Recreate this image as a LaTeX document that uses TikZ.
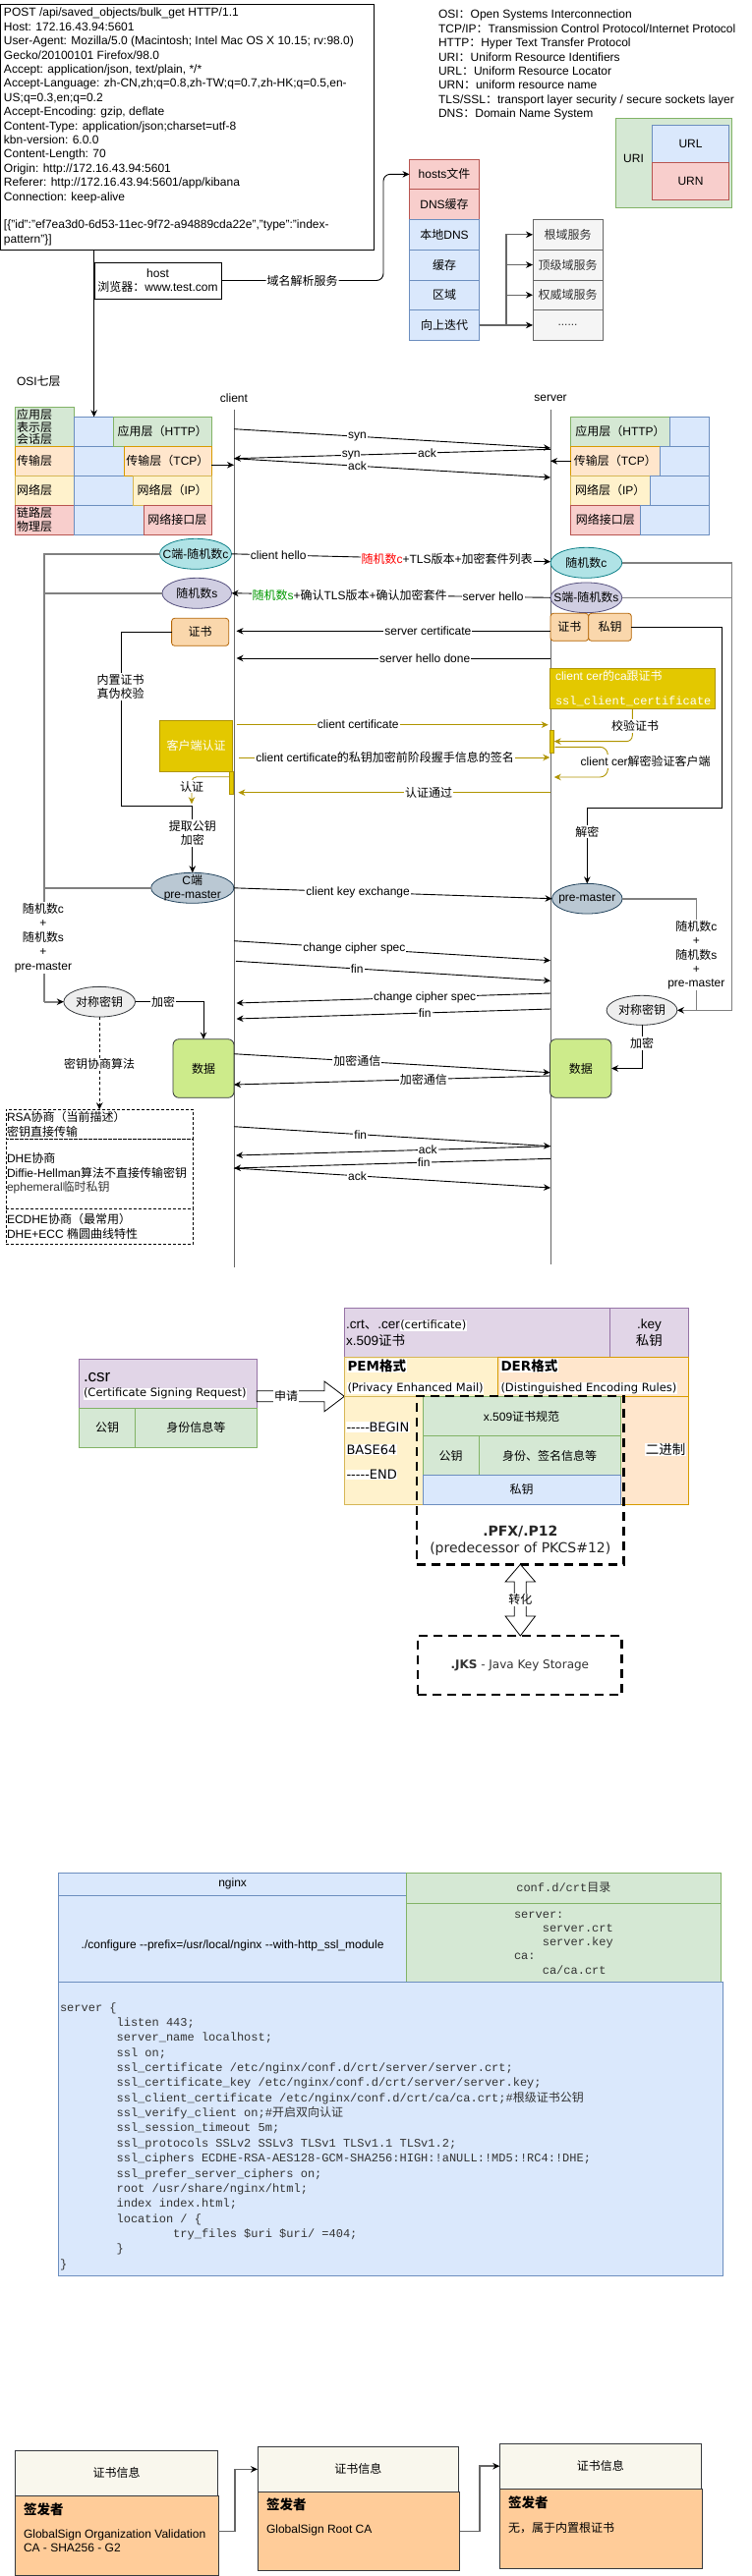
\documentclass[tikz,border=0pt]{standalone}
\usepackage{fontspec}
\setmainfont{Liberation Sans}
\setmonofont{Liberation Mono}
\newfontfamily\cjkfont{Noto Sans CJK SC}
\newfontfamily\dvfont{DejaVu Sans}
\usetikzlibrary{arrows.meta,shapes.geometric}
\XeTeXinterchartokenstate=1
\newXeTeXintercharclass\CJKcls
\newcount\cjkcnt
\newcommand\cjkrange[2]{\cjkcnt=#1\relax
  \loop\XeTeXcharclass\cjkcnt=\CJKcls\relax
  \ifnum\cjkcnt<#2\relax\advance\cjkcnt by 1\relax\repeat}
\cjkrange{"3000}{"303F}
\cjkrange{"4E00}{"9FFF}
\cjkrange{"FF00}{"FFEF}
\newcommand\mylatinfam{\rmdefault}
\newcommand\cjkon{\cjkfont}
\newcommand\cjkoff{\fontfamily{\mylatinfam}\selectfont}
\XeTeXinterchartoks 0 \CJKcls = {\cjkon}
\XeTeXinterchartoks 4095 \CJKcls = {\cjkon}
\XeTeXinterchartoks \CJKcls 0 = {\cjkoff}
\XeTeXinterchartoks \CJKcls 4095 = {\cjkoff}
\newcommand\fs[2]{\fontsize{#1}{#2}\selectfont}
\newcommand\bx[7]{\node[#6, minimum width={(#4)-(#2)}, minimum height={(#5)-(#3)}] (#1) at ({((#2)+(#4))/2},{((#3)+(#5))/2}) {#7};}
\newcommand\el[7]{\node[ell,#6,minimum width=#4,minimum height=#5] (#1) at (#2,#3) {};\node[align=center] (#1t) at (#2,#3) {#7};}
\definecolor{GF}{HTML}{D5E8D4}\definecolor{GD}{HTML}{82B366}
\definecolor{BF}{HTML}{DAE8FC}\definecolor{BD}{HTML}{6C8EBF}
\definecolor{RF}{HTML}{F8CECC}\definecolor{RD}{HTML}{B85450}
\definecolor{OF}{HTML}{FFE6CC}\definecolor{OD}{HTML}{D79B00}
\definecolor{YF}{HTML}{FFF2CC}\definecolor{YD}{HTML}{D6B656}
\definecolor{PF}{HTML}{E1D5E7}\definecolor{PD}{HTML}{9673A6}
\definecolor{GrF}{HTML}{F5F5F5}\definecolor{GrD}{HTML}{666666}\definecolor{GrT}{HTML}{333333}
\definecolor{TF}{HTML}{B0E3E6}\definecolor{TD}{HTML}{0E8088}
\definecolor{LF}{HTML}{D0CEE2}\definecolor{LD}{HTML}{56517E}
\definecolor{SF}{HTML}{BAC8D3}\definecolor{SD}{HTML}{23445D}
\definecolor{CF}{HTML}{FAD7AC}\definecolor{CD}{HTML}{B46504}
\definecolor{DYF}{HTML}{E3C800}\definecolor{YE}{HTML}{B09500}
\definecolor{EF}{HTML}{EEEEEE}\definecolor{ED}{HTML}{36393D}
\definecolor{DF}{HTML}{CDEB8B}
\definecolor{HF}{HTML}{F9F7ED}\definecolor{BoF}{HTML}{FFCC99}
\definecolor{GL}{HTML}{808080}\definecolor{GRL}{HTML}{666666}
\definecolor{SG}{HTML}{009900}\definecolor{CT}{HTML}{333333}
\begin{document}
\begin{tikzpicture}[x=1pt,y=-1pt,
  every node/.style={font={\fs{12}{14.4}}, inner sep=0pt, outer sep=0pt},
  bxs/.style={draw, rectangle, line width=0.8pt, align=center},
  gbox/.style={bxs, fill=GF, draw=GD},
  bbox/.style={bxs, fill=BF, draw=BD},
  rbox/.style={bxs, fill=RF, draw=RD},
  obox/.style={bxs, fill=OF, draw=OD},
  ybox/.style={bxs, fill=YF, draw=YD},
  pbox/.style={bxs, fill=PF, draw=PD},
  grbox/.style={bxs, fill=GrF, draw=GrD, text=GrT},
  cert/.style={bxs, rounded corners=3pt, fill=CF, draw=CD},
  dybox/.style={bxs, fill=DYF, draw=YE, text=white},
  dbox/.style={bxs, rounded corners=6pt, fill=DF, draw=ED},
  hbox/.style={bxs, fill=HF, draw=ED},
  obody/.style={bxs, fill=BoF, draw=ED},
  ell/.style={ellipse, draw, line width=0.8pt},
  arr/.style={line width=0.9pt, -{Stealth[length=7pt,width=6.5pt]}},
  yarr/.style={arr, draw=YE},
  gl/.style={draw=GL, line width=1.6pt},
  garr/.style={gl, -{Stealth[length=7pt,width=6.5pt,color=black]}},
  lbl/.style={fill=white, inner sep=1pt},
  life/.style={draw=black!60, line width=1pt},
  dbx/.style={draw, line width=0.8pt, dash pattern=on 3pt off 2pt},
  tdash/.style={draw, line width=2.8pt, dash pattern=on 9pt off 6pt},
]
\fill[white] (0,0) rectangle (764,2622);
\useasboundingbox (0,0) rectangle (764,2622);

% ---------- HTTP request ----------
\node[draw, line width=0.8pt, minimum width=379.5, minimum height=250, anchor=north west] (http) at (0.5,4) {};
\node[anchor=west, align=left] (httptxt) at (4,129) {POST /api/saved\_objects/bulk\_get HTTP/1.1\\
Host: 172.16.43.94:5601\\
User-Agent: Mozilla/5.0 (Macintosh; Intel Mac OS X 10.15; rv:98.0)\\
Gecko/20100101 Firefox/98.0\\
Accept: application/json, text/plain, */*\\
Accept-Language: zh-CN,zh;q=0.8,zh-TW;q=0.7,zh-HK;q=0.5,en-\\
US;q=0.3,en;q=0.2\\
Accept-Encoding: gzip, deflate\\
Content-Type: application/json;charset=utf-8\\
kbn-version: 6.0.0\\
Content-Length: 70\\
Origin: http://172.16.43.94:5601\\
Referer: http://172.16.43.94:5601/app/kibana\\
Connection: keep-alive\\[14.4pt]
[\{"id":"ef7ea3d0-6d53-11ec-9f72-a94889cda22e","type":"index-\\
pattern"\}]};
\bx{host}{96}{267}{225}{304}{bxs}{host\\浏览器：www.test.com}

% ---------- definitions ----------
\node[anchor=west, align=left] (defs) at (446,66.2) {OSI：Open Systems Interconnection\\
TCP/IP：Transmission Control Protocol/Internet Protocol\\
HTTP：Hyper Text Transfer Protocol\\
URI：Uniform Resource Identifiers\\
URL：Uniform Resource Locator\\
URN：uniform resource name\\
TLS/SSL：transport layer security / secure sockets layer\\
DNS：Domain Name System};
\bx{uri}{626.7}{120.3}{744.3}{211.3}{gbox}{}
\node (urit) at (644.5,161) {URI};
\bx{url}{663.3}{127.3}{741.7}{165.3}{bbox}{URL}
\bx{urn}{663.3}{165.3}{741.7}{203.3}{rbox}{URN}

% ---------- DNS ----------
\bx{hosts}{416.5}{162}{487.5}{192.7}{rbox}{hosts文件}
\bx{dnsc}{416.5}{192.7}{487.5}{223.4}{rbox}{DNS缓存}
\bx{ldns}{416.5}{223.4}{487.5}{254.2}{bbox}{本地DNS}
\bx{cache}{416.5}{254.2}{487.5}{284.9}{bbox}{缓存}
\bx{zone}{416.5}{284.9}{487.5}{315.6}{bbox}{区域}
\bx{iter}{416.5}{315.6}{487.5}{346.3}{bbox}{向上迭代}
\bx{g1}{542}{223.4}{613}{254.2}{grbox}{根域服务}
\bx{g2}{542}{254.2}{613}{284.9}{grbox}{顶级域服务}
\bx{g3}{542}{284.9}{613}{315.6}{grbox}{权威域服务}
\bx{g4}{542}{315.6}{613}{346.3}{grbox}{......}
\coordinate (jn) at (515,330.95);
\foreach \t in {g1,g2,g3,g4}{\draw[line width=1.3pt, draw=GRL, -{Stealth[length=7pt,width=6.5pt,color=black]}] (iter.east) -- (jn) |- (\t.west);}
\draw[arr, rounded corners=7pt] (host.east) -- node[lbl]{域名解析服务} (390,285.5) -- (390,177.3) -- (hosts.west);

% ---------- lifelines ----------
\node[anchor=west] (osi7) at (17,388) {OSI七层};
\node (client) at (238,405) {client};
\node (server) at (560,405) {server};
\coordinate (cT) at (238,416.7); \coordinate (cB) at (238,1290);
\coordinate (sT) at (560,416.7); \coordinate (sB) at (560,1287);
\draw[life] (cT) -- (cB);
\draw[life] (sT) -- (sB);

% ---------- OSI left ----------
\bx{L1}{15.6}{414}{75.6}{454.3}{gbox}{}
\bx{L2}{15.6}{454.3}{75.6}{484.3}{obox}{}
\bx{L3}{15.6}{484.3}{75.6}{514.3}{ybox}{}
\bx{L4}{15.6}{514.3}{75.6}{544.3}{rbox}{}
\node[anchor=west, align=left, font={\fs{12}{12.8}}] (L1t) at (17,434.5) {应用层\\表示层\\会话层};
\node[anchor=west] (L2t) at (17,469.3) {传输层};
\node[anchor=west] (L3t) at (17,499.3) {网络层};
\node[anchor=west, align=left, font={\fs{12}{14}}] (L4t) at (17,528.7) {链路层\\物理层};
\bx{oB1}{75.6}{424.3}{115.6}{454.3}{bbox}{}
\bx{oB2}{75.6}{454.3}{125.9}{484.3}{bbox}{}
\bx{oB3}{75.6}{484.3}{135.6}{514.3}{bbox}{}
\bx{oB4}{75.6}{514.3}{145.9}{544.3}{bbox}{}
\bx{oL1}{115.6}{424.3}{215}{454.3}{gbox}{应用层（HTTP）}
\bx{oL2}{125.9}{454.3}{215}{484.3}{obox}{传输层（TCP）}
\bx{oL3}{135.6}{484.3}{215}{514.3}{ybox}{网络层（IP）}
\bx{oL4}{145.9}{514.3}{215}{544.3}{rbox}{网络接口层}
\draw[arr] (http.south -| oB1.north) -- (oB1.north);
% ---------- OSI right ----------
\bx{oR1}{580.5}{424.3}{681.5}{454.3}{gbox}{应用层（HTTP）}
\bx{oRB1}{681.5}{424.3}{721}{454.3}{bbox}{}
\bx{oR2}{580.5}{454.3}{671}{484.3}{obox}{传输层（TCP）}
\bx{oRB2}{671}{454.3}{721}{484.3}{bbox}{}
\bx{oR3}{580.5}{484.3}{661}{514.3}{ybox}{网络层（IP）}
\bx{oRB3}{661}{484.3}{721}{514.3}{bbox}{}
\bx{oR4}{580.5}{514.3}{651}{544.3}{rbox}{网络接口层}
\bx{oRB4}{651}{514.3}{721}{544.3}{bbox}{}
\draw[arr] ([yshift=-4pt]oL2.east) -- (238,473.3);
\draw[arr] (oR2.west) -- (560,469.3);

% ---------- TCP handshake ----------
\draw[arr] (238,436.7) -- node[lbl,pos=0.39]{syn} (560,456);
\draw[arr] (560,457.3) -- node[lbl,pos=0.39]{ack} node[lbl,pos=0.63]{syn} (238,466.7);
\draw[arr] (238,466.7) -- node[lbl,pos=0.39]{ack} (560,486);

% ---------- TLS ----------
\el{cR}{199}{563.8}{73}{31}{fill=TF,draw=TD}{C端-随机数c}
\el{sL}{200.3}{603.8}{70.6}{31}{fill=LF,draw=LD}{随机数s}
\el{rc}{596.4}{572.8}{72.7}{31}{fill=TF,draw=TD}{随机数c}
\el{ss}{596.4}{608.3}{72.7}{30.7}{fill=LF,draw=LD}{S端-随机数s}
\el{pmC}{195.8}{903.8}{84.3}{31}{fill=SF,draw=SD}{C端\\pre-master}
\el{pmS}{597.3}{914.7}{71.5}{30.7}{fill=SF,draw=SD}{pre-master}
\el{dcL}{101.2}{1019.7}{72.7}{30.7}{fill=EF,draw=ED}{对称密钥}
\el{dcR}{653}{1028.3}{71.8}{30}{fill=EF,draw=ED}{对称密钥}
\bx{zsL}{174.6}{629.3}{232.7}{657.3}{cert}{证书}
\bx{zsR}{560}{624.3}{598.7}{652.3}{cert}{证书}
\bx{skR}{598.7}{624.3}{642.3}{652.3}{cert}{私钥}

\draw[arr] (cR.east) -- node[lbl,pos=0.147]{client hello} node[lbl,pos=0.675]{{\color{red}随机数c}+TLS版本+加密套件列表} (560,571.7);
\draw[arr] (ss.west) -- node[lbl,pos=0.18]{server hello} node[lbl,pos=0.63]{{\color{SG}随机数s}+确认TLS版本+确认加密套件} (sL.east);
\draw[arr] (560,642.3) -- node[lbl,pos=0.39]{server certificate} (240.5,642.3);
\draw[arr] (560,670) -- node[lbl,pos=0.40]{server hello done} (240.5,670);

% gray key-material lines
\draw[gl] (cR.west) -| (45,1019.7);
\draw[gl] (sL.west) -| (45,1019.7);
\draw[gl] (pmC.west) -| (45,1019.7);
\coordinate (mL) at (45,1019.7);
\draw[garr] (mL) -- (dcL.west);
\node[lbl, align=center] (lblL) at (44,954.5) {随机数c\\+\\随机数s\\+\\pre-master};
\draw[gl] (rc.east) -| (744.5,1028.3);
\draw[gl] (ss.east) -| (744.5,1028.3);
\coordinate (mR) at (744.5,1028.3);
\draw[garr] (mR) -- (dcR.east);
\draw[gl] (pmS.east) -| (708.3,1028.3);
\node[lbl, align=center] (lblR) at (708.3,972.2) {随机数c\\+\\随机数s\\+\\pre-master};

% certificate lines
\draw[arr] (skR.east) -| (734,822.7) -| (pmS.north);
\node[lbl] (jm) at (597.3,846.7) {解密};
\draw[arr] (zsL.west) -| (123.4,820) -| (pmC.north);
\node[lbl, align=center] (nz) at (122.5,699) {内置证书\\真伪校验};
\node[lbl, align=center] (tq) at (195.8,848.2) {提取公钥\\加密};

% client certificate (mutual auth)
\bx{ccb}{559.3}{680}{727.3}{721.3}{dybox}{}
\node[anchor=west, text=white] (cct1) at (565,687.5) {client cer的ca跟证书};
\node[anchor=west, text=white, font={\ttfamily\fs{12}{14}}] (cct2) at (565,713.3) {ssl\_client\_certificate};
\bx{bar1}{559.3}{743.3}{563.7}{766}{dybox}{}
\draw[yarr, rounded corners=6pt] (ccb.south) |- (bar1.east);
\node[lbl] (jy) at (646,739) {校验证书};
\coordinate (lp1) at (564.5,760.3); \coordinate (lp2) at (563.7,791);
\draw[yarr, rounded corners=8pt] (lp1) -| (618.3,775.6) |- (lp2);
\node[lbl] (jk) at (656.7,775) {client cer解密验证客户端};
\bx{kh}{162.4}{733.3}{236.6}{785}{dybox}{客户端认证}
\draw[yarr] (240.6,737.7) -- node[lbl,pos=0.39]{client certificate} (557.7,737.7);
\draw[yarr] (242.9,771) -- node[lbl,pos=0.47]{client certificate的私钥加密前阶段握手信息的签名} (559.3,771);
\bx{bar2}{233.3}{785}{237.2}{808.3}{dybox}{}
\coordinate (au1) at (233.3,790.7);
\draw[yarr, rounded corners=5pt] (au1) -| (195,818.3);
\node[lbl] (rz) at (195,800.7) {认证};
\draw[yarr] (560,806.7) -- node[lbl,pos=0.39]{认证通过} (242.4,806.7);

% key exchange
\draw[arr] (pmC.east) -- node[lbl,pos=0.39]{client key exchange} (pmS.west);
\draw[arr] (238,957.7) -- node[lbl,pos=0.38]{change cipher spec} (560,977.7);
\draw[arr] (240,978.3) -- node[lbl,pos=0.385]{fin} (560,998.3);
\draw[arr] (560,1011) -- node[lbl,pos=0.40]{change cipher spec} (240.5,1021);
\draw[arr] (560,1027) -- node[lbl,pos=0.40]{fin} (240.5,1037);

\bx{dL}{176}{1057.7}{238}{1117.3}{dbox}{数据}
\bx{dR}{559.5}{1057.7}{622}{1117.3}{dbox}{数据}
\draw[arr] (dcL.east) -| (dL.north);
\node[lbl] (jmL) at (166,1019.7) {加密};
\draw[arr] (dcR.south) |- (dR.east);
\node[lbl] (jmR) at (653,1062) {加密};
\draw[arr] (238,1072.7) -- node[lbl,pos=0.39]{加密通信} (559.5,1091.7);
\draw[arr] (559.5,1095) -- node[lbl,pos=0.40]{加密通信} (238,1104);

% key agreement boxes
\bx{rsa}{5.9}{1129.3}{196.6}{1159.3}{dbx}{}
\bx{dhe}{5.9}{1159.3}{196.6}{1230}{dbx}{}
\bx{ecd}{5.9}{1230}{196.6}{1266.7}{dbx}{}
\draw[arr, dash pattern=on 3pt off 2.5pt] (dcL.south) -- (dcL.south |- rsa.north);
\node[lbl] (xs) at (101.2,1083.3) {密钥协商算法};
\node[anchor=west, align=left] (rsat) at (7,1144.5) {RSA协商（当前描述）\\密钥直接传输};
\node[anchor=west, align=left] (dhet) at (7,1194.5) {DHE协商\\Diffie-Hellman算法不直接传输密钥\\{\color{CT}ephemeral临时私钥}};
\node[anchor=west, align=left] (ecdt) at (7,1248.3) {ECDHE协商（最常用）\\DHE+ECC 椭圆曲线特性};

% closing
\draw[arr] (238,1146.7) -- node[lbl,pos=0.40]{fin} (560,1166.7);
\draw[arr] (560,1166.7) -- node[lbl,pos=0.39]{ack} (240,1176);
\draw[arr] (560,1179.3) -- node[lbl,pos=0.40]{fin} (238,1189);
\draw[arr] (238,1189) -- node[lbl,pos=0.39]{ack} (560,1209);

% ---------- certificates ----------
\bx{csr}{80.7}{1383.3}{261.3}{1433.3}{pbox}{}
\node[anchor=west, font={\fs{17}{19}}] (csrt) at (85,1402.3) {.csr};
\node[anchor=west, fill=white, inner sep=0.5pt, font={\dvfont\fs{11.5}{13}}] (csrt2) at (84.5,1418.7) {(Certificate Signing Request)};
\bx{csrpk}{80.7}{1433.3}{137.6}{1473.3}{gbox}{公钥}
\bx{csrid}{137.6}{1433.3}{261.3}{1473.3}{gbox}{身份信息等}
\draw[line width=0.8pt, fill=white] (csr.east |- 0,1415.7) -- (330,1415.7) -- (330,1406) -- (350.3,1421.3) -- (330,1436.7) -- (330,1426.7) -- (csr.east |- 0,1426.7) -- cycle;
\node[lbl] (sq) at (291,1421.3) {申请};

\bx{crt}{350.3}{1331.7}{620.3}{1381}{pbox}{}
\bx{key}{620.3}{1331.7}{700.5}{1381}{pbox}{}
\node[anchor=west, align=left, font={\fs{13.5}{16.3}}] (crtt) at (352,1356.8) {.crt、.cer{\dvfont\fs{11.5}{13}\setlength{\fboxsep}{0.5pt}\colorbox{white}{(certificate)}}\\x.509证书};
\node[align=center, font={\fs{13.5}{16.3}}] (keyt) at (660.4,1356.8) {.key\\私钥};
\bx{pem}{350.3}{1381}{506}{1421}{ybox}{}
\bx{der}{506}{1381}{700.5}{1421}{obox}{}
\node[anchor=west, fill=white, inner sep=0.5pt, font={\dvfont\bfseries\fs{13.5}{15}}] (pemt) at (353,1390) {PEM格式};
\node[anchor=west, fill=white, inner sep=0.5pt, font={\dvfont\fs{11.5}{13}}] (pemt2) at (353,1413.3) {(Privacy Enhanced Mail)};
\node[anchor=west, fill=white, inner sep=0.5pt, font={\dvfont\bfseries\fs{13.5}{15}}] (dert) at (509,1390) {DER格式};
\node[anchor=west, fill=white, inner sep=0.5pt, font={\dvfont\fs{11.5}{13}}] (dert2) at (509,1413.3) {(Distinguished Encoding Rules)};
\bx{pemb}{350.3}{1421}{506}{1531}{ybox}{}
\bx{derb}{506}{1421}{700.5}{1531}{obox}{}
\node[anchor=west, fill=white, inner sep=0.5pt, font={\dvfont\fs{13}{15}}] (b64a) at (352,1452.3) {-\kern0pt-\kern0pt-\kern0pt-\kern0pt-BEGIN};
\node[anchor=west, fill=white, inner sep=0.5pt, font={\dvfont\fs{13}{15}}] (b64b) at (352,1475.7) {BASE64};
\node[anchor=west, fill=white, inner sep=0.5pt, font={\dvfont\fs{13}{15}}] (b64c) at (352,1501) {-\kern0pt-\kern0pt-\kern0pt-\kern0pt-END};
\node[fill=white, inner sep=0.5pt, font={\fs{13.5}{15}}] (bin) at (677,1475.7) {二进制};
\bx{x509}{430}{1421.7}{631}{1461.7}{gbox}{x.509证书规范}
\bx{xpk}{430}{1461.7}{487.4}{1501.7}{gbox}{公钥}
\bx{xid}{487.4}{1461.7}{631}{1501.7}{gbox}{身份、签名信息等}
\bx{xsk}{430}{1501.7}{631}{1531}{bbox}{私钥}
\bx{pfx}{424}{1421}{634.7}{1592.3}{tdash}{}
\node[align=center, font={\dvfont\fs{14}{16.7}}, text=black!85] (pfxt) at (529.3,1568.3) {\textbf{.PFX/.P12}\\(predecessor of PKCS\#12)};
\draw[line width=0.8pt, fill=white] (pfx.south) -- (544.5,1610) -- (535.3,1610) -- (535.3,1645) -- (544.5,1645) -- (529.3,1665) -- (514.1,1645) -- (523.3,1645) -- (523.3,1610) -- (514.1,1610) -- cycle;
\node[lbl] (zh) at (529.3,1628.3) {转化};
\bx{jks}{425}{1665}{632.7}{1725}{tdash}{}
\node[font={\dvfont\fs{12}{14}}, text=CT] (jkst) at (528.8,1695) {\textbf{.JKS} - Java Key Storage};

% ---------- nginx ----------
\bx{nh}{59.5}{1906.3}{413.7}{1929.3}{bbox}{nginx}
\bx{nb}{59.5}{1929.3}{413.7}{2017}{bbox}{}
\node (nbt) at (236.6,1980.7) {./configure -\kern0pt-prefix=/usr/local/nginx -\kern0pt-with-http\_ssl\_module};
\bx{ch}{413.7}{1906.3}{733}{1937.3}{gbox}{}
\node[font={\ttfamily\fs{12}{14}}, text=CT] (cht) at (573.3,1921.7) {conf.d/crt目录};
\bx{cb}{413.7}{1937.3}{733}{2017}{gbox}{}
\node[anchor=west, align=left, font={\ttfamily\fs{12}{14.3}}, text=CT] (cbt) at (523,1977.5) {server:\\\hspace*{28.8pt}server.crt\\\hspace*{28.8pt}server.key\\ca:\\\hspace*{28.8pt}ca/ca.crt};
\bx{cfg}{59.5}{2017}{735}{2316}{bbox}{}
\node[anchor=west, align=left, font={\ttfamily\fs{12}{15.35}}, text=CT] (cfgt) at (61,2174.5) {server \{\\
\hspace*{57.6pt}listen 443;\\
\hspace*{57.6pt}server\_name localhost;\\
\hspace*{57.6pt}ssl on;\\
\hspace*{57.6pt}ssl\_certificate /etc/nginx/conf.d/crt/server/server.crt;\\
\hspace*{57.6pt}ssl\_certificate\_key /etc/nginx/conf.d/crt/server/server.key;\\
\hspace*{57.6pt}ssl\_client\_certificate /etc/nginx/conf.d/crt/ca/ca.crt;\#根级证书公钥\\
\hspace*{57.6pt}ssl\_verify\_client on;\#开启双向认证\\
\hspace*{57.6pt}ssl\_session\_timeout 5m;\\
\hspace*{57.6pt}ssl\_protocols SSLv2 SSLv3 TLSv1 TLSv1.1 TLSv1.2;\\
\hspace*{57.6pt}ssl\_ciphers ECDHE-RSA-AES128-GCM-SHA256:HIGH:!aNULL:!MD5:!RC4:!DHE;\\
\hspace*{57.6pt}ssl\_prefer\_server\_ciphers on;\\
\hspace*{57.6pt}root /usr/share/nginx/html;\\
\hspace*{57.6pt}index index.html;\\
\hspace*{57.6pt}location / \{\\
\hspace*{115.2pt}try\_files \$uri \$uri/ =404;\\
\hspace*{57.6pt}\}\\
\}};

% ---------- certificate chain ----------
\bx{b1b}{15.6}{2540.3}{222}{2621.5}{obody}{}
\bx{b1h}{15.6}{2494}{221.5}{2540.3}{hbox}{证书信息}
\node[anchor=west, font={\bfseries\fs{13.5}{16}}] (b1s) at (24,2554.3) {签发者};
\node[anchor=west, align=left] (b1t) at (24,2586.2) {GlobalSign Organization Validation\\CA - SHA256 - G2};
\bx{b2b}{262}{2536.3}{467.8}{2616.7}{obody}{}
\bx{b2h}{262}{2490.3}{466.8}{2536.3}{hbox}{证书信息}
\node[anchor=west, font={\bfseries\fs{13.5}{16}}] (b2s) at (271,2549.3) {签发者};
\node[anchor=west] (b2t) at (271,2575.7) {GlobalSign Root CA};
\bx{b3b}{508.3}{2533}{714.2}{2614}{obody}{}
\bx{b3h}{508.3}{2487.3}{713.2}{2533}{hbox}{证书信息}
\node[anchor=west, font={\bfseries\fs{13.5}{16}}] (b3s) at (517,2547.7) {签发者};
\node[anchor=west] (b3t) at (517,2573.3) {无，属于内置根证书};
\draw[gl, draw=GRL, line width=1.5pt, -{Stealth[length=7pt,width=6.5pt,color=black]}] (b1b.east |- 0,2576.7) -| (239,2545) |- (b2h.west);
\draw[gl, draw=GRL, line width=1.5pt, -{Stealth[length=7pt,width=6.5pt,color=black]}] (b2b.east |- 0,2576.7) -| (487.8,2545) |- (b3h.west);
\end{tikzpicture}
\end{document}
